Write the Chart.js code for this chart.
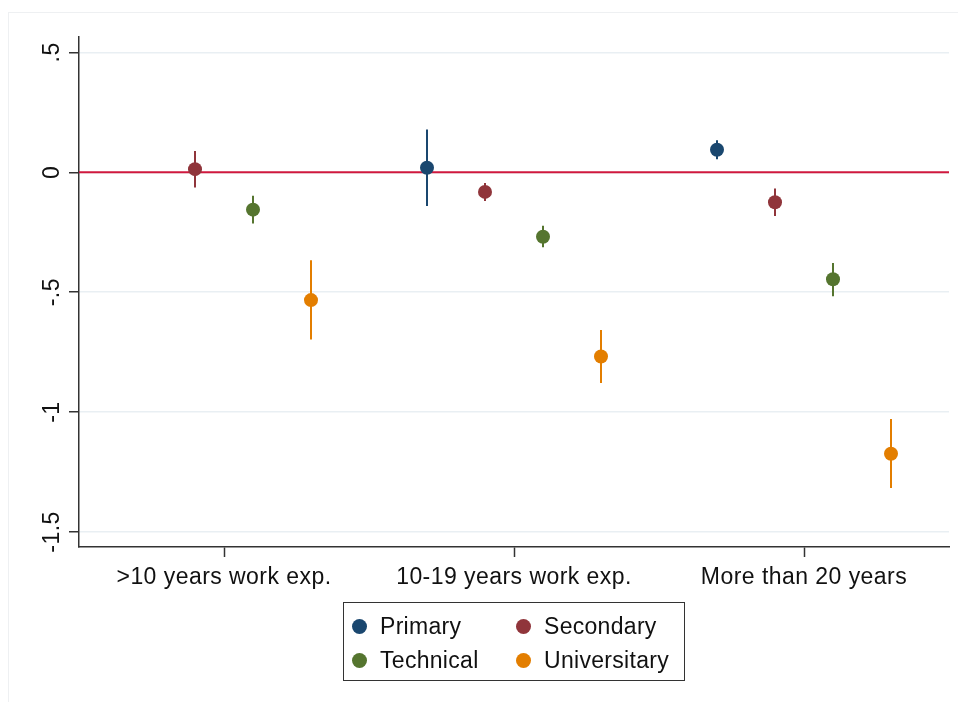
<!DOCTYPE html>
<html>
<head>
<meta charset="utf-8">
<script src="https://cdn.jsdelivr.net/npm/chart.js@4"></script>
<style>
  html, body { margin: 0; padding: 0; background: #fff; }
  #wrap { position: relative; width: 958px; height: 702px; font-family: "Liberation Sans", Arial, sans-serif; }
  #frame { position: absolute; left: 8px; top: 12px; width: 950px; height: 690px; border-left: 1px solid #eef0f2; border-top: 1px solid #eef0f2; box-sizing: border-box; }
  #legend { position: absolute; left: 343px; top: 602px; width: 342px; height: 79px; border: 1.5px solid #333; box-sizing: border-box; font-size: 23px; letter-spacing: 0.3px; color: #111; }
  .item { position: absolute; display: flex; align-items: center; height: 30px; }
  .dot { width: 15px; height: 15px; border-radius: 50%; margin-right: 13px; }
</style>
</head>
<body>
<div id="wrap">
  <div id="frame"></div>
  <canvas id="chart" width="958" height="702"></canvas>
  <div id="legend"></div>
</div>
<script>
// ── DATA ──────────────────────────────────────────────
const categories = [">10 years work exp.", "10-19 years work exp.", "More than 20 years"];
const seriesNames = ["Primary", "Secondary", "Technical", "Universitary"];
const seriesColors = ["#1a476f", "#90353b", "#55752f", "#e37e00"];
const seriesOffsets = [-0.3, -0.1, 0.1, 0.3];

// point estimates per category (null = not shown)
const primaryEst      = [null, 0.019, 0.094];
const secondaryEst    = [0.013, -0.082, -0.125];
const technicalEst    = [-0.156, -0.269, -0.446];
const universitaryEst = [-0.533, -0.768, -1.174];

// confidence interval bounds
const primaryLo      = [null, -0.141, 0.054];
const primaryHi      = [null, 0.178, 0.133];
const secondaryLo    = [-0.064, -0.120, -0.182];
const secondaryHi    = [0.089, -0.045, -0.068];
const technicalLo    = [-0.214, -0.313, -0.517];
const technicalHi    = [-0.098, -0.223, -0.378];
const universitaryLo = [-0.697, -0.879, -1.317];
const universitaryHi = [-0.367, -0.658, -1.029];

const yTicks = [-1.5, -1, -0.5, 0, 0.5];
const yTickLabels = ["-1.5", "-1", "-.5", "0", ".5"];

const estimates = [primaryEst, secondaryEst, technicalEst, universitaryEst];
const lows  = [primaryLo, secondaryLo, technicalLo, universitaryLo];
const highs = [primaryHi, secondaryHi, technicalHi, universitaryHi];

const FONT = "'Liberation Sans', Arial, sans-serif";

// build scatter datasets
const datasets = [
  {
    type: "line",
    label: "zero",
    data: [{ x: 0.5, y: 0 }, { x: 3.5, y: 0 }],
    borderColor: "#d0183e",
    borderWidth: 2,
    pointRadius: 0,
    order: 10,
  },
];
seriesNames.forEach((name, s) => {
  const pts = [];
  estimates[s].forEach((v, i) => {
    if (v !== null) pts.push({ x: i + 1 + seriesOffsets[s], y: v, lo: lows[s][i], hi: highs[s][i] });
  });
  datasets.push({
    label: name,
    data: pts,
    backgroundColor: seriesColors[s],
    borderColor: seriesColors[s],
    pointRadius: 7,
    pointHoverRadius: 7,
    borderWidth: 0,
    order: 1,
  });
});

// slightly wider text, like the Stata export
const spacing = {
  id: "spacing",
  beforeDraw(chart) { chart.ctx.letterSpacing = "0.45px"; },
};

// error bars drawn from lo/hi through the scales
const errorBars = {
  id: "errorBars",
  beforeDatasetsDraw(chart) {
    const { ctx, scales: { x, y } } = chart;
    ctx.save();
    ctx.lineWidth = 2;
    chart.data.datasets.forEach(ds => {
      if (ds.type === "line") return;
      ctx.strokeStyle = ds.borderColor;
      ds.data.forEach(p => {
        const px = x.getPixelForValue(p.x);
        ctx.beginPath();
        ctx.moveTo(px, y.getPixelForValue(p.lo));
        ctx.lineTo(px, y.getPixelForValue(p.hi));
        ctx.stroke();
      });
    });
    ctx.restore();
  },
};

// rotated y tick labels (Stata style)
const yLabels = {
  id: "yLabels",
  afterDraw(chart) {
    const { ctx, scales: { y } } = chart;
    ctx.save();
    ctx.fillStyle = "#111";
    ctx.font = "23px " + FONT;
    ctx.textAlign = "center";
    ctx.textBaseline = "middle";
    yTicks.forEach((v, i) => {
      ctx.save();
      ctx.translate(53, y.getPixelForValue(v));
      ctx.rotate(-Math.PI / 2);
      ctx.fillText(yTickLabels[i], 0, 0);
      ctx.restore();
    });
    ctx.restore();
  },
};

new Chart(document.getElementById("chart"), {
  type: "scatter",
  data: { datasets },
  plugins: [spacing, errorBars, yLabels],
  options: {
    responsive: false,
    animation: false,
    events: [],
    layout: { padding: { left: 0, top: 37, right: 9, bottom: 0 } },
    plugins: { legend: { display: false }, tooltip: { enabled: false } },
    scales: {
      x: {
        type: "linear",
        min: 0.5,
        max: 3.5,
        afterBuildTicks: sc => { sc.ticks = categories.map((c, i) => ({ value: i + 1 })); },
        afterFit: sc => { sc.height = 155; },
        ticks: {
          callback: (v) => categories[Math.round(v) - 1],
          color: "#111",
          font: { family: FONT, size: 23 },
          padding: 7,
          maxRotation: 0,
          autoSkip: false,
        },
        grid: { drawOnChartArea: false, drawTicks: true, tickLength: 10, tickColor: "#333", tickWidth: 1.5 },
        border: { display: true, color: "#333", width: 1.5 },
      },
      y: {
        min: -1.5626,
        max: 0.564,
        afterBuildTicks: sc => { sc.ticks = yTicks.map(v => ({ value: v })); },
        afterFit: sc => { sc.width = 79; },
        ticks: { display: false },
        grid: { color: "#e9eff3", lineWidth: 1.5, drawTicks: true, tickLength: 10, tickColor: "#333", tickWidth: 1.5 },
        border: { display: true, color: "#333", width: 1.5 },
      },
    },
  },
});

// legend
const legend = document.getElementById("legend");
const legendPos = [[8, 8], [172, 8], [8, 42], [172, 42]];
seriesNames.forEach((name, s) => {
  const it = document.createElement("div");
  it.className = "item";
  it.style.left = legendPos[s][0] + "px";
  it.style.top = legendPos[s][1] + "px";
  it.innerHTML = `<span class="dot" style="background:${seriesColors[s]}"></span><span>${name}</span>`;
  legend.appendChild(it);
});
</script>
</body>
</html>
